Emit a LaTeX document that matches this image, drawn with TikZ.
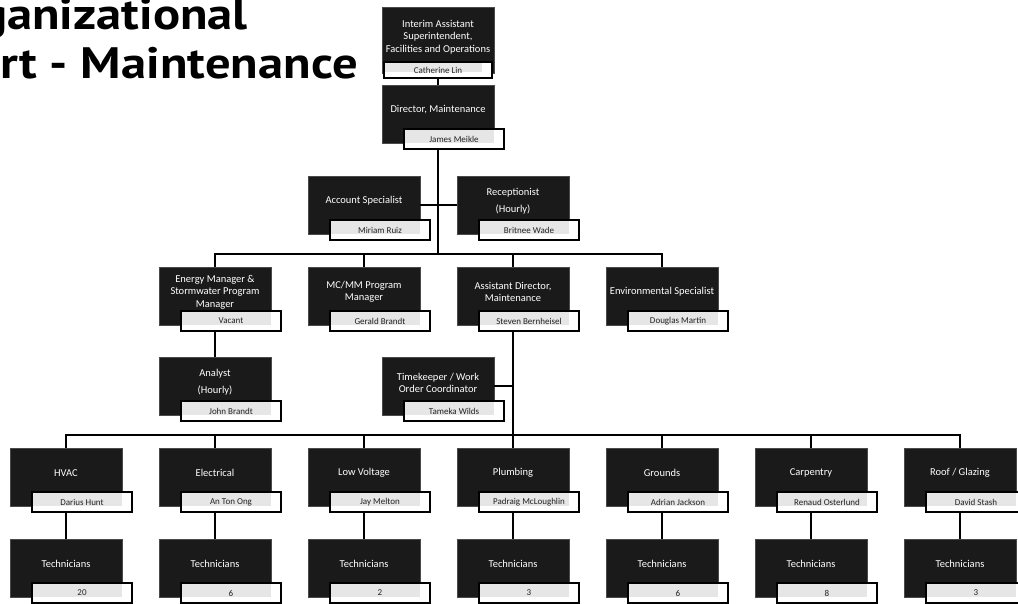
\documentclass[tikz,border=0pt]{standalone}
\usepackage{fontspec}
\setmainfont{Carlito}
\newfontfamily\titlefont{PT Sans}
\definecolor{boxdark}{HTML}{1A1A1A}
\definecolor{boxedge}{HTML}{4A4A4A}
\definecolor{namegrey}{HTML}{E6E6E6}
\definecolor{nametext}{HTML}{222222}
\begin{document}
\begin{tikzpicture}[x=1pt,y=-1pt,
  role/.style={draw=boxedge, line width=0.6pt, fill=boxdark,
    minimum width=112pt, minimum height=58pt, inner sep=0pt},
  roletext/.style={text=white, font=\fontsize{10.5}{12.5}\selectfont,
    align=center, inner sep=0pt},
  person/.style={draw=black, line width=1.1pt, fill=white,
    minimum width=100pt, minimum height=20pt, inner sep=0pt,
    text=nametext, font=\fontsize{9}{10}\selectfont,
    path picture={\fill[namegrey]
      ([xshift=1pt,yshift=-1pt]path picture bounding box.north west) rectangle
      ([xshift=-10pt,yshift=6pt]path picture bounding box.south east);}},
  link/.style={draw=black, line width=1.5pt},
  titletext/.style={font=\titlefont\bfseries\fontsize{44}{50}\selectfont,
    inner sep=0pt, text=black}
]
\useasboundingbox (0,0) rectangle (1018,603);

% ---- title (running off the left edge) ----
\node[titletext, anchor=base east] (title1) at (248,29) {\scalebox{1.15}[1]{Organizational}};
\node[titletext, anchor=base east] (title2) at (358,78) {\scalebox{1.15}[1]{Chart - Maintenance}};

% ---- top of the chain ----
\node[role, minimum height=66pt] (sup) at (438,40) {};
\node[roletext] (supt) at ([yshift=3pt]sup.center)
  {Interim Assistant\\Superintendent,\\Facilities and Operations};
\node[person, minimum width=108pt, minimum height=16pt] (supn) at (438,70) {Catherine Lin};

\node[role] (dir) at (438,114) {};
\node[roletext] (dirt) at ([yshift=4pt]dir.center) {Director, Maintenance};
\node[person] (dirn) at ([xshift=16pt,yshift=-25pt]dir.center) {James Meikle};

% ---- staff of the director ----
\node[role] (acc) at (364,205) {};
\node[roletext] (acct) at ([yshift=4pt]acc.center) {Account Specialist};
\node[person] (accn) at ([xshift=16pt,yshift=-25pt]acc.center) {Miriam Ruiz};

\node[role] (rec) at (513,205) {};
\node[roletext] (rect) at ([yshift=4pt]rec.center) {Receptionist\\[4.5pt](Hourly)};
\node[person] (recn) at ([xshift=16pt,yshift=-25pt]rec.center) {Britnee Wade};

% ---- managers ----
\node[role] (eng) at (215,296) {};
\node[roletext] (engt) at ([yshift=4pt]eng.center) {Energy Manager \&\\Stormwater Program\\Manager};
\node[person] (engn) at ([xshift=16pt,yshift=-25pt]eng.center) {Vacant};

\node[role] (mcmm) at (364,296) {};
\node[roletext] (mcmmt) at ([yshift=4pt]mcmm.center) {MC/MM Program\\Manager};
\node[person] (mcmmn) at ([xshift=16pt,yshift=-25pt]mcmm.center) {Gerald Brandt};

\node[role] (asst) at (513,296) {};
\node[roletext] (asstt) at ([yshift=4pt]asst.center) {Assistant Director,\\Maintenance};
\node[person] (asstn) at ([xshift=16pt,yshift=-25pt]asst.center) {Steven Bernheisel};

\node[role] (env) at (662,296) {};
\node[roletext] (envt) at ([yshift=4pt]env.center) {Environmental Specialist};
\node[person] (envn) at ([xshift=16pt,yshift=-25pt]env.center) {Douglas Martin};

% ---- third level ----
\node[role] (ana) at (215,386) {};
\node[roletext] (anat) at ([yshift=4pt]ana.center) {Analyst\\[4.5pt](Hourly)};
\node[person] (anan) at ([xshift=16pt,yshift=-25pt]ana.center) {John Brandt};

\node[role] (tk) at (438,386) {};
\node[roletext] (tkt) at ([yshift=3pt]tk.center) {Timekeeper / Work\\Order Coordinator};
\node[person] (tkn) at ([xshift=16pt,yshift=-25pt]tk.center) {Tameka Wilds};

% ---- trades and their technicians ----
\foreach \k/\x/\trade/\lead/\count in {
  hvac/66/{HVAC}/{Darius Hunt}/20,
  elec/215/{Electrical}/{An Ton Ong}/6,
  lowv/364/{Low Voltage}/{Jay Melton}/2,
  plmb/513/{Plumbing}/{Padraig McLoughlin}/3,
  grnd/662/{Grounds}/{Adrian Jackson}/6,
  carp/811/{Carpentry}/{Renaud Osterlund}/8,
  roof/960/{Roof / Glazing}/{David Stash}/3} {
  \node[role] (\k) at (\x,477) {};
  \node[roletext] (\k t) at ([yshift=4pt]\k.center) {\trade};
  \node[person] (\k n) at ([xshift=16pt,yshift=-25pt]\k.center) {\lead};
  \node[role] (\k tech) at (\x,568) {};
  \node[roletext] (\k techt) at ([yshift=4pt]\k tech.center) {Technicians};
  \node[person] (\k techn) at ([xshift=16pt,yshift=-25pt]\k tech.center) {\count};
  \draw[link] (\k |- \k n.south) -- (\k tech.north);
}

% ---- connectors ----
\coordinate (busA) at (438,254);
\coordinate (busB) at (513,435);

\draw[link] (supn.south) -- (dir.north);
\draw[link] (dir |- dirn.south) -- (busA);
\draw[link] (acc.east) -- (rec.west);
\draw[link] (eng.north) |- (busA) -| (env.north);
\draw[link] (mcmm.north |- busA) -- (mcmm.north);
\draw[link] (asst.north |- busA) -- (asst.north);
\draw[link] (eng |- engn.south) -- (ana.north);
\draw[link] (asst |- asstn.south) -- (busB);
\draw[link] (tk.east) -- (tk.east -| asst);
\draw[link] (hvac.north) |- (busB) -| (roof.north);
\foreach \k in {elec,lowv,plmb,grnd,carp}
  \draw[link] (\k.north |- busB) -- (\k.north);
\end{tikzpicture}
\end{document}
